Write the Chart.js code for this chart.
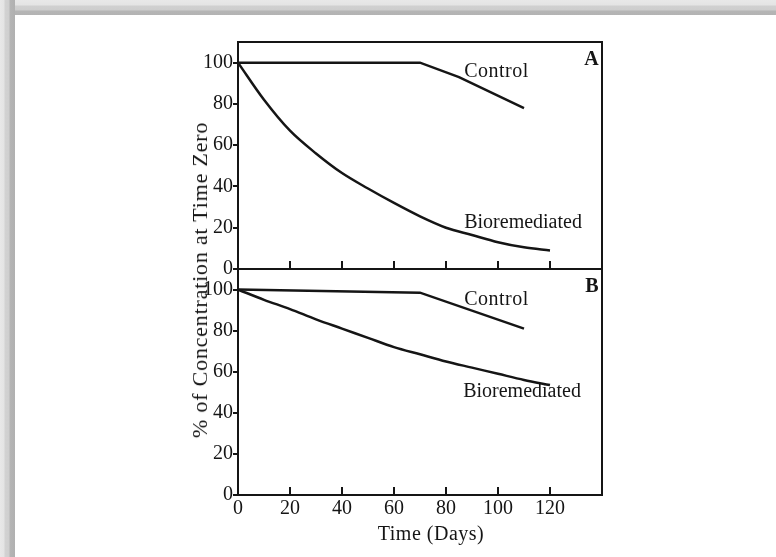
<!DOCTYPE html>
<html>
<head>
<meta charset="utf-8">
<script src="https://cdn.jsdelivr.net/npm/chart.js@4/dist/chart.umd.min.js"></script>
<style>
  html, body { margin: 0; padding: 0; background: #fff; }
  #page { position: relative; width: 776px; height: 557px; overflow: hidden; background: #fff; }
  .band-top { position: absolute; left: 0; top: 0; width: 776px; height: 15px;
    background: linear-gradient(to bottom, #e8e8e8 0, #e4e4e4 5px, #d0d0d0 6px, #cdcdcd 10px, #b5b5b5 11px, #b3b3b3 15px); }
  .band-left { position: absolute; left: 0; top: 0; width: 15px; height: 557px;
    background: linear-gradient(to right, #e8e8e8 0, #e4e4e4 4px, #d2d2d2 5px, #cfcfcf 9px, #b5b5b5 10px, #b0b0b0 15px); }
  canvas { position: absolute; left: 0; }
  #chartA { top: 0; }
  #chartB { top: 250px; }
  .axis-title { position: absolute; font-family: "Liberation Serif", "Times New Roman", serif;
    color: #151515; white-space: nowrap; }
  #yTitle { left: 200px; top: 280px; font-size: 22px; transform: translate(-50%, -50%) rotate(-90deg); letter-spacing: 0.8px; }
  #xTitle { left: 431px; top: 533px; font-size: 20px; transform: translate(-50%, -50%); letter-spacing: 0.5px; }
</style>
</head>
<body>
<div id="page">
  <div class="band-top"></div>
  <div class="band-left"></div>
  <canvas id="chartA" width="776" height="300"></canvas>
  <canvas id="chartB" width="776" height="307"></canvas>
  <div class="axis-title" id="yTitle">% of Concentration at Time Zero</div>
  <div class="axis-title" id="xTitle">Time (Days)</div>
</div>
<script>
"use strict";

// data
const xTicks = [0, 20, 40, 60, 80, 100, 120];
const yTicks = [0, 20, 40, 60, 80, 100];

const bioDays = [0, 10, 20, 30, 40, 50, 60, 70, 80, 90, 100, 110, 120];
const bioA = [100, 82, 67, 56, 46.5, 39, 32, 25.5, 20, 16.5, 13, 10.5, 9];
const bioB = [100, 95, 90.5, 85.5, 81, 76.5, 72, 68.5, 65, 62, 59, 56, 53.5];

const controlDaysA = [0, 70, 85, 110];
const controlA = [100, 100, 93, 78];
const controlDaysB = [0, 70, 110];
const controlB = [100, 98.5, 81];

// text placed in data units: [text, day, value, bold]
const notesA = [["Control", 87, 93.2, false], ["Bioremediated", 87, 19.7, false], ["A", 133.2, 98.9, true]];
const notesB = [["Control", 87, 92.7, false], ["Bioremediated", 86.6, 47.5, false], ["B", 133.6, 98.9, true]];

const INK = "#151515";
const SERIF = "'Liberation Serif', 'Times New Roman', serif";

function points(xs, ys) {
  return xs.map((x, i) => ({ x: x, y: ys[i] }));
}

const notePlugin = {
  id: "notes",
  afterDatasetsDraw(chart, args, opts) {
    const ctx = chart.ctx;
    ctx.save();
    ctx.fillStyle = INK;
    ctx.textAlign = "left";
    ctx.textBaseline = "alphabetic";
    opts.items.forEach(([text, d, v, bold]) => {
      ctx.font = (bold ? "bold " : "") + "20px " + SERIF;
      ctx.letterSpacing = text === "Control" ? "0.5px" : "0px";
      ctx.fillText(text, chart.scales.x.getPixelForValue(d), chart.scales.y.getPixelForValue(v));
    });
    ctx.restore();
  },
};

function frameAxis(position, size) {
  return {
    position: position,
    min: 0,
    max: 1,
    grid: { display: false, drawTicks: false },
    ticks: { display: false },
    border: { display: true, color: INK, width: 2 },
    afterFit(scale) {
      if (position === "top" || position === "bottom") scale.height = size;
      else scale.width = size;
    },
  };
}

function makePanel(canvasId, bio, ctlDays, ctl, notes, dims, showXLabels) {
  const ctx = document.getElementById(canvasId).getContext("2d");
  const scales = {
    x: {
      type: "linear",
      position: "bottom",
      min: 0,
      max: 140,
      afterBuildTicks(scale) {
        scale.ticks = xTicks.map((v) => ({ value: v }));
      },
      grid: { drawOnChartArea: false, drawTicks: true, tickLength: -8, color: INK, lineWidth: 2 },
      border: { display: true, color: INK, width: 2 },
      ticks: {
        display: showXLabels,
        padding: 10,
        color: INK,
        font: { family: SERIF, size: 20 },
        maxRotation: 0,
      },
      afterFit(scale) {
        scale.height = dims.bottom;
      },
    },
    y: {
      type: "linear",
      position: "left",
      min: 0,
      max: 110,
      afterBuildTicks(scale) {
        scale.ticks = yTicks.map((v) => ({ value: v }));
      },
      grid: { drawOnChartArea: false, drawTicks: true, tickLength: 5, color: INK, lineWidth: 2 },
      border: { display: true, color: INK, width: 2 },
      ticks: {
        padding: 0,
        color: INK,
        font: { family: SERIF, size: 20 },
      },
      afterFit(scale) {
        scale.width = dims.left;
      },
    },
    yRight: frameAxis("right", dims.right),
  };
  if (dims.top !== undefined) {
    scales.xTop = frameAxis("top", dims.top);
  }

  return new Chart(ctx, {
    type: "line",
    data: {
      datasets: [
        {
          label: "Control",
          data: points(ctlDays, ctl),
          borderColor: INK,
          borderWidth: 2.5,
          pointRadius: 0,
          tension: 0,
          fill: false,
        },
        {
          label: "Bioremediated",
          data: points(bioDays, bio),
          borderColor: INK,
          borderWidth: 2.5,
          pointRadius: 0,
          cubicInterpolationMode: "monotone",
          fill: false,
        },
      ],
    },
    options: {
      responsive: false,
      animation: false,
      layout: { padding: 0 },
      plugins: {
        legend: { display: false },
        tooltip: { enabled: false },
        notes: { items: notes },
      },
      scales: scales,
    },
    plugins: [notePlugin],
  });
}

// panel A: plot box 238..602 x 42..269 on a 776x300 canvas
makePanel("chartA", bioA, controlDaysA, controlA, notesA,
  { left: 238, right: 174, top: 42, bottom: 31 }, false);

// panel B: plot box 238..602 x 269..495 (canvas starts at y=250)
makePanel("chartB", bioB, controlDaysB, controlB, notesB,
  { left: 238, right: 174, top: 19, bottom: 62 }, true);
</script>
</body>
</html>
